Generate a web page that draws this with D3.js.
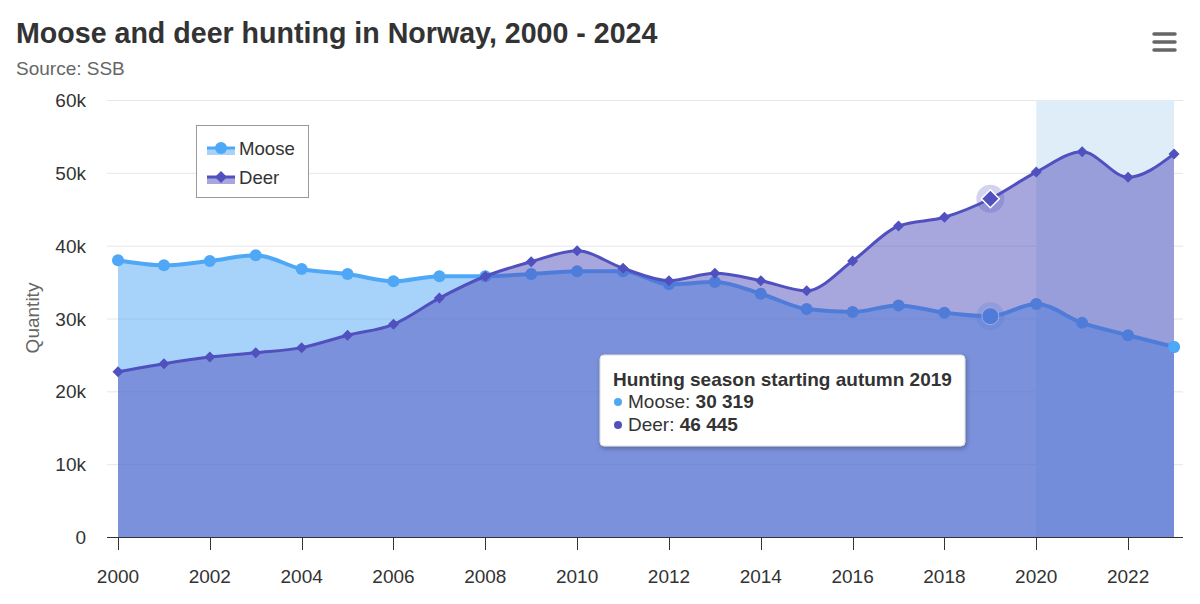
<!DOCTYPE html>
<html>
<head>
<meta charset="utf-8">
<script src="https://cdn.jsdelivr.net/npm/d3@7/dist/d3.min.js"></script>
<style>
  html, body { margin: 0; padding: 0; background: #fff; }
  svg { display: block; font-family: "Liberation Sans", Arial, Helvetica, sans-serif; }
</style>
</head>
<body>
<svg id="chart" width="1200" height="604"></svg>
<script>
// ---- data ----
const years = [2000,2001,2002,2003,2004,2005,2006,2007,2008,2009,2010,2011,2012,2013,2014,2015,2016,2017,2018,2019,2020,2021,2022,2023];
const moose = [38000,37300,37900,38700,36800,36100,35100,35800,35800,36100,36500,36500,34700,35000,33400,31300,30900,31800,30800,30319,32000,29400,27700,26100];
const deer  = [22700,23800,24700,25300,26000,27700,29200,32800,35800,37800,39300,36900,35200,36200,35200,33800,37900,42700,43900,46445,50100,52900,49400,52600];
const yTicks = [0,10000,20000,30000,40000,50000,60000];
const xTicks = [2000,2002,2004,2006,2008,2010,2012,2014,2016,2018,2020,2022];
const bandRange = [2020, 2023];
const hoverYear = 2019;
const seriesNames = ["Moose", "Deer"];

const title = "Moose and deer hunting in Norway, 2000 - 2024";
const subtitle = "Source: SSB";
const yTitle = "Quantity";
const tooltipTitle = "Hunting season starting autumn 2019";

// ---- style ----
const mooseColor = "#4fa8f5";
const deerColor = "#5050be";
const labelSize = 19;

const svg = d3.select("#chart");
const plot = {left: 107, right: 1183, top: 100, bottom: 537};

const x = d3.scaleLinear().domain([2000, 2023]).range([118, 1174]);
const y = d3.scaleLinear().domain([0, 60000]).range([plot.bottom, plot.top]);

// title
svg.append("text").attr("x", 16).attr("y", 43)
  .attr("font-size", 28.6).attr("font-weight", "bold").attr("fill", "#333")
  .text(title);
svg.append("text").attr("x", 16).attr("y", 75)
  .attr("font-size", 19).attr("fill", "#666")
  .text(subtitle);

// hamburger menu
const menu = svg.append("g").attr("stroke", "#666").attr("stroke-width", 3.5).attr("stroke-linecap", "round");
[34, 42, 50].forEach(yy => menu.append("line").attr("x1", 1154).attr("x2", 1175).attr("y1", yy).attr("y2", yy));

// grid
svg.append("g").selectAll("line").data(yTicks.filter(d => d > 0)).join("line")
  .attr("x1", plot.left).attr("x2", plot.right)
  .attr("y1", d => y(d) + 0.5).attr("y2", d => y(d) + 0.5)
  .attr("stroke", "#e6e6e6").attr("stroke-width", 1);

// plot band
svg.append("rect")
  .attr("x", x(bandRange[0])).attr("y", plot.top)
  .attr("width", x(bandRange[1]) - x(bandRange[0]))
  .attr("height", plot.bottom - plot.top)
  .attr("fill", "#deedf7");

// y labels
svg.append("g").selectAll("text").data(yTicks).join("text")
  .attr("x", 86).attr("y", d => y(d) + 7)
  .attr("text-anchor", "end").attr("font-size", labelSize).attr("fill", "#333")
  .text(d => d === 0 ? "0" : (d / 1000) + "k");

svg.append("text")
  .attr("transform", "translate(39,318) rotate(-90)")
  .attr("text-anchor", "middle").attr("font-size", 19).attr("fill", "#666")
  .text(yTitle);

const curve = d3.curveMonotoneX;
const idx = d3.range(years.length);

function drawSeries(vals, color, lineW, markerFn) {
  const area = d3.area().curve(curve).x(i => x(years[i])).y0(y(0)).y1(i => y(vals[i]));
  const line = d3.line().curve(curve).x(i => x(years[i])).y(i => y(vals[i]));
  svg.append("path").attr("d", area(idx)).attr("fill", color).attr("fill-opacity", 0.5);
  svg.append("path").attr("d", line(idx)).attr("fill", "none").attr("stroke", color)
    .attr("stroke-width", lineW).attr("stroke-linejoin", "round").attr("stroke-linecap", "round");
  const g = svg.append("g");
  markerFn(g, vals, color);
}

function circles(g, vals, color) {
  g.selectAll("circle").data(idx.filter(i => years[i] !== hoverYear)).join("circle")
    .attr("cx", i => x(years[i])).attr("cy", i => y(vals[i])).attr("r", 6).attr("fill", color);
}
const diamondPath = (cx, cy, r) => `M${cx},${cy - r}L${cx + r},${cy}L${cx},${cy + r}L${cx - r},${cy}Z`;
function diamonds(g, vals, color) {
  g.selectAll("path").data(idx.filter(i => years[i] !== hoverYear)).join("path")
    .attr("d", i => diamondPath(x(years[i]), y(vals[i]), 5.5)).attr("fill", color);
}

drawSeries(moose, mooseColor, 4, circles);
// hovered moose
{
  const hi = years.indexOf(hoverYear);
  const cx = x(years[hi]), cy = y(moose[hi]);
  svg.append("circle").attr("cx", cx).attr("cy", cy).attr("r", 14).attr("fill", mooseColor).attr("fill-opacity", 0.25);
  svg.append("circle").attr("cx", cx).attr("cy", cy).attr("r", 8.5).attr("fill", mooseColor).attr("stroke", "#fff").attr("stroke-width", 1);
}
drawSeries(deer, deerColor, 3, diamonds);
// hovered deer
{
  const hi = years.indexOf(hoverYear);
  const cx = x(years[hi]), cy = y(deer[hi]);
  svg.append("circle").attr("cx", cx).attr("cy", cy).attr("r", 14).attr("fill", deerColor).attr("fill-opacity", 0.25);
  svg.append("path").attr("d", diamondPath(cx, cy, 9)).attr("fill", deerColor).attr("stroke", "#fff").attr("stroke-width", 1.5);
}
// last moose point rendered on top
{
  const li = years.length - 1;
  svg.append("circle").attr("cx", x(years[li])).attr("cy", y(moose[li])).attr("r", 6).attr("fill", mooseColor);
}

// x axis
svg.append("line").attr("x1", plot.left).attr("x2", plot.right)
  .attr("y1", plot.bottom + 0.5).attr("y2", plot.bottom + 0.5).attr("stroke", "#333").attr("stroke-width", 1);
svg.append("g").selectAll("line").data(xTicks).join("line")
  .attr("x1", d => Math.round(x(d)) + 0.5).attr("x2", d => Math.round(x(d)) + 0.5)
  .attr("y1", plot.bottom).attr("y2", plot.bottom + 13).attr("stroke", "#333");
svg.append("g").selectAll("text").data(xTicks).join("text")
  .attr("x", d => x(d)).attr("y", 583)
  .attr("text-anchor", "middle").attr("font-size", labelSize).attr("fill", "#333")
  .text(d => d);

// legend
const lg = svg.append("g");
lg.append("rect").attr("x", 196.5).attr("y", 125.5).attr("width", 112).attr("height", 72)
  .attr("fill", "#fff").attr("stroke", "#999").attr("stroke-width", 1);
[[seriesNames[0], mooseColor, "circle"], [seriesNames[1], deerColor, "diamond"]].forEach((s, i) => {
  const cy = 148 + i * 29;
  lg.append("rect").attr("x", 207).attr("y", cy).attr("width", 28).attr("height", 7)
    .attr("fill", s[1]).attr("fill-opacity", 0.5);
  lg.append("line").attr("x1", 207).attr("x2", 235).attr("y1", cy).attr("y2", cy)
    .attr("stroke", s[1]).attr("stroke-width", 3);
  if (s[2] === "circle") lg.append("circle").attr("cx", 221).attr("cy", cy).attr("r", 6).attr("fill", s[1]);
  else lg.append("path").attr("d", diamondPath(221, cy, 6)).attr("fill", s[1]);
  lg.append("text").attr("x", 239).attr("y", cy + 7).attr("font-size", 18.6).attr("fill", "#333").text(s[0]);
});

// tooltip
const defs = svg.append("defs");
const f = defs.append("filter").attr("id", "shadow").attr("x", "-10%").attr("y", "-20%").attr("width", "130%").attr("height", "150%");
f.append("feDropShadow").attr("dx", 1).attr("dy", 2).attr("stdDeviation", 2.5).attr("flood-color", "#000").attr("flood-opacity", 0.3);
const tt = svg.append("g");
tt.append("rect").attr("x", 600).attr("y", 355).attr("width", 365).attr("height", 91).attr("rx", 4)
  .attr("fill", "#fff").attr("stroke", "#ddd").attr("stroke-width", 1).attr("filter", "url(#shadow)");
tt.append("text").attr("x", 613).attr("y", 386).attr("font-size", 19).attr("font-weight", "bold").attr("fill", "#333")
  .text(tooltipTitle);
const fmt = v => d3.format(",")(v).replace(/,/g, " ");
const hi = years.indexOf(hoverYear);
[[seriesNames[0], mooseColor, moose[hi]], [seriesNames[1], deerColor, deer[hi]]].forEach((s, i) => {
  const by = 408 + i * 23;
  tt.append("circle").attr("cx", 618).attr("cy", by - 6).attr("r", 4).attr("fill", s[1]);
  const t = tt.append("text").attr("x", 628).attr("y", by).attr("font-size", 19).attr("fill", "#333");
  t.append("tspan").text(s[0] + ": ");
  t.append("tspan").attr("font-weight", "bold").text(fmt(s[2]));
});
</script>
</body>
</html>
